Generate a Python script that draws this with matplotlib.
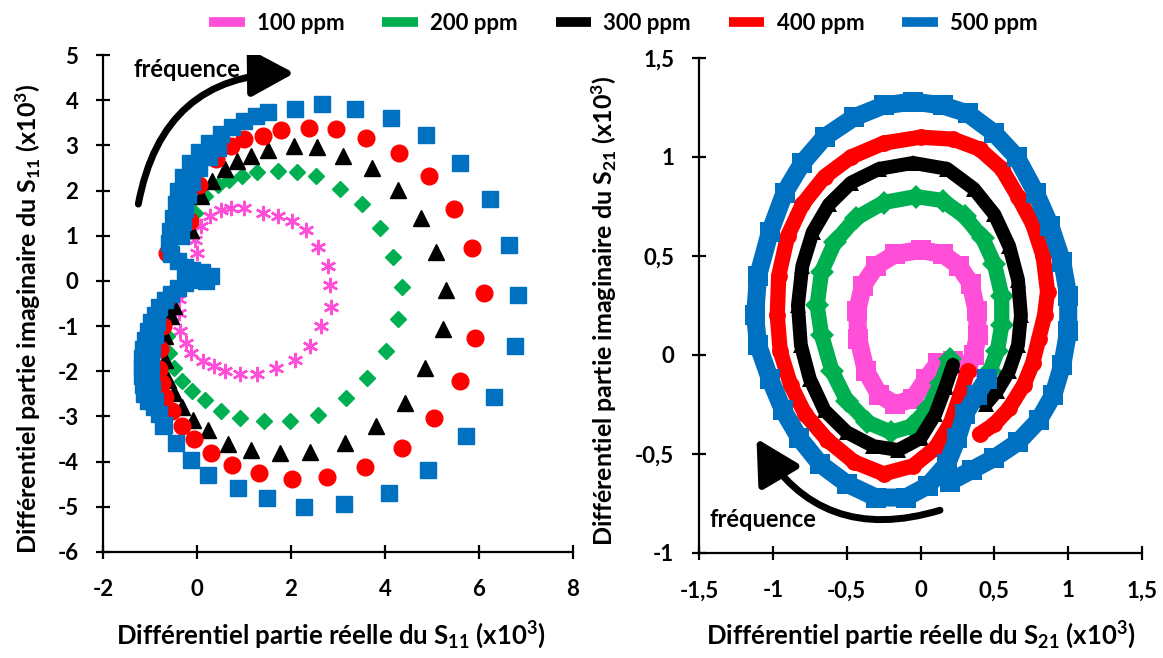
import matplotlib
matplotlib.use("Agg")
import matplotlib.pyplot as plt
from matplotlib.lines import Line2D
from matplotlib.patches import FancyArrowPatch
from matplotlib.ticker import FuncFormatter

plt.rcParams['font.family'] = ['Lato', 'DejaVu Sans']
plt.rcParams['font.weight'] = 'bold'
plt.rcParams['mathtext.fontset'] = 'custom'
plt.rcParams['mathtext.rm'] = 'Lato:bold'
plt.rcParams['mathtext.default'] = 'rm'
plt.rcParams['axes.unicode_minus'] = False

labels = ['100 ppm', '200 ppm', '300 ppm', '400 ppm', '500 ppm']
colors = ['#ff4fd8', '#00b050', '#000000', '#ff0000', '#0070c0']

# ---- S11 (left) ----
s11_100_x = [-0.38, -0.38, -0.36, -0.24, -0.12, 0.12, 0.36, 0.6, 0.92, 1.28, 1.68, 2.08, 2.4, 2.64,
             2.84, 2.82, 2.78, 2.58, 2.32, 2.02, 1.72, 1.4, 1.0, 0.72, 0.52, 0.28, 0.08, -0.04, 0.0]
s11_100_y = [-0.41, -0.7, -1.11, -1.37, -1.59, -1.78, -1.89, -2.0, -2.05, -2.05, -1.93, -1.74, -1.44, -1.0,
             -0.57, -0.09, 0.32, 0.76, 1.13, 1.32, 1.43, 1.5, 1.61, 1.61, 1.58, 1.43, 1.21, 0.91, 0.61]

s11_200_x = [-0.6, -0.64, -0.6, -0.48, -0.32, -0.1, 0.16, 0.5, 0.92, 1.42, 1.98, 2.58, 3.18, 3.62, 4.02, 4.28,
             4.36, 4.18, 3.9, 3.5, 3.04, 2.54, 2.12, 1.72, 1.28, 0.96, 0.68, 0.44, 0.16, -0.04]
s11_200_y = [-0.85, -1.22, -1.59, -1.93, -2.22, -2.44, -2.63, -2.89, -3.04, -3.09, -3.11, -2.96, -2.59, -2.15, -1.56, -0.85,
             -0.14, 0.53, 1.17, 1.71, 2.04, 2.32, 2.41, 2.43, 2.41, 2.32, 2.24, 2.13, 1.87, 1.5]

s11_300_x = [-0.48, -0.56, -0.68, -0.68, -0.62, -0.5, -0.32, -0.08, 0.24, 0.66, 1.14, 1.76, 2.4, 3.14, 3.8, 4.42,
             4.86, 5.24, 5.3, 5.08, 4.76, 4.28, 3.72, 3.1, 2.56, 2.06, 1.5, 1.14, 0.84, 0.6, 0.32, 0.08, -0.12]
s11_300_y = [-0.56, -0.78, -1.22, -1.74, -2.19, -2.48, -2.78, -3.07, -3.31, -3.61, -3.74, -3.81, -3.78, -3.59, -3.22, -2.7,
             -1.93, -1.07, -0.2, 0.64, 1.39, 2.02, 2.5, 2.76, 2.96, 2.99, 2.9, 2.76, 2.65, 2.47, 2.21, 1.87, 1.13]

s11_400_x = [-0.64, -0.72, -0.78, -0.8, -0.74, -0.68, -0.54, -0.32, -0.06, 0.3, 0.74, 1.32, 2.02, 2.76, 3.58, 4.36,
             5.04, 5.6, 5.92, 6.1, 5.86, 5.46, 4.94, 4.3, 3.6, 2.96, 2.38, 1.78, 1.4, 1.0, 0.72, 0.4, 0.04, -0.16, -0.64]
s11_400_y = [-0.4, -1.0, -1.5, -1.96, -2.26, -2.56, -2.89, -3.22, -3.5, -3.81, -4.07, -4.26, -4.39, -4.33, -4.11, -3.7,
             -3.04, -2.22, -1.26, -0.27, 0.73, 1.59, 2.32, 2.84, 3.17, 3.36, 3.39, 3.34, 3.21, 3.13, 2.99, 2.69, 2.13, 1.32, 0.61]

s11_500_x = [0.3, 0.2, 0.05, -0.1, -0.25, -0.4, -0.55, -0.68, -0.8, -0.9, -0.98, -1.05, -1.1, -1.14, -1.17,
             -1.18, -1.18, -1.16, -1.12, -1.05, -0.92, -0.72, -0.44, -0.12, 0.24, 0.88, 1.48, 2.28, 3.12, 4.08,
             4.92, 5.72, 6.32, 6.76, 6.84, 6.64, 6.24, 5.6, 4.88, 4.12, 3.36, 2.66, 2.08, 1.52, 1.25, 1.0, 0.75,
             0.5, 0.25, 0.05, -0.15, -0.3, -0.4, -0.45, -0.52, -0.58, -0.6, -0.55, -0.4, -0.25, -0.1, 0.1,
             -0.85, -0.9, -0.95, -0.98, -0.98, -0.95, -0.9, -0.8, -0.7, -0.35, -0.3, -0.25, -0.2, -0.1, 0.05, 0.25, 0.45]
s11_500_y = [0.1, 0.0, 0.08, 0.02, -0.05, -0.15, -0.28, -0.42, -0.58, -0.75, -0.92, -1.1, -1.3, -1.5, -1.7,
             -1.9, -2.1, -2.3, -2.5, -2.65, -2.78, -3.22, -3.59, -3.96, -4.3, -4.59, -4.81, -5.0, -4.93, -4.7,
             -4.19, -3.44, -2.56, -1.44, -0.31, 0.8, 1.81, 2.61, 3.22, 3.61, 3.81, 3.91, 3.8, 3.73, 3.65, 3.55, 3.4,
             3.25, 3.05, 2.85, 2.6, 2.3, 2.0, 1.7, 1.4, 1.1, 0.85, 0.6, 0.45, 0.3, 0.25, 0.2,
             -0.9, -1.2, -1.5, -1.8, -2.1, -2.4, -2.65, -2.95, -3.2, 1.0, 1.3, 1.6, 1.9, 2.2, 2.5, 2.75, 2.95]

# ---- S21 (right) ----
s21_100_x = [0.3, 0.22, 0.12, 0.04, -0.05, -0.17, -0.28, -0.37, -0.42, -0.43, -0.39, -0.3, -0.17, 0.0, 0.15,
             0.26, 0.34, 0.38, 0.39, 0.36, 0.32]
s21_100_y = [-0.05, -0.03, -0.04, -0.12, -0.22, -0.25, -0.2, -0.08, 0.08, 0.22, 0.35, 0.45, 0.51, 0.53, 0.51,
             0.45, 0.36, 0.22, 0.1, 0.0, -0.06]

s21_200_x = [0.2, 0.14, 0.05, -0.06, -0.2, -0.36, -0.5, -0.6, -0.67, -0.7, -0.67, -0.58, -0.44, -0.25, -0.03,
             0.15, 0.3, 0.42, 0.5, 0.55, 0.55, 0.52, 0.47]
s21_200_y = [-0.02, -0.14, -0.27, -0.36, -0.39, -0.34, -0.23, -0.08, 0.1, 0.25, 0.42, 0.57, 0.69, 0.77, 0.8,
             0.78, 0.7, 0.59, 0.46, 0.3, 0.15, 0.02, -0.08]

s21_300_x = [0.22, 0.17, 0.1, 0.0, -0.15, -0.32, -0.5, -0.65, -0.75, -0.81, -0.83, -0.8, -0.73, -0.62, -0.47,
             -0.28, -0.05, 0.18, 0.36, 0.5, 0.6, 0.66, 0.68, 0.66, 0.6, 0.52, 0.44]
s21_300_y = [-0.05, -0.16, -0.3, -0.42, -0.48, -0.46, -0.39, -0.28, -0.12, 0.05, 0.25, 0.45, 0.62, 0.76, 0.87,
             0.94, 0.97, 0.94, 0.84, 0.71, 0.55, 0.38, 0.2, 0.05, -0.08, -0.18, -0.25]

s21_400_x = [0.32, 0.27, 0.2, 0.1, -0.05, -0.25, -0.45, -0.63, -0.78, -0.88, -0.95, -0.97, -0.96, -0.9, -0.8,
             -0.65, -0.47, -0.25, 0.0, 0.22, 0.4, 0.55, 0.66, 0.76, 0.83, 0.86, 0.84, 0.8, 0.76, 0.7, 0.6, 0.5, 0.4]
s21_400_y = [-0.08, -0.2, -0.35, -0.47, -0.56, -0.6, -0.54, -0.43, -0.3, -0.15, 0.02, 0.2, 0.4, 0.6, 0.76,
             0.9, 1.0, 1.07, 1.1, 1.09, 1.04, 0.94, 0.8, 0.66, 0.5, 0.32, 0.2, 0.08, -0.04, -0.15, -0.27, -0.35, -0.4]

s21_500_x = [0.45, 0.38, 0.3, 0.25, 0.18, 0.05, -0.1, -0.3, -0.5, -0.68, -0.82, -0.93, -1.02, -1.1, -1.12,
             -1.1, -1.02, -0.92, -0.8, -0.65, -0.45, -0.25, -0.05, 0.15, 0.32, 0.5, 0.65, 0.78, 0.88, 0.96,
             1.0, 1.0, 0.96, 0.9, 0.8, 0.66, 0.5, 0.35, 0.2]
s21_500_y = [-0.12, -0.2, -0.3, -0.42, -0.55, -0.66, -0.72, -0.72, -0.65, -0.55, -0.42, -0.28, -0.12, 0.05, 0.2,
             0.4, 0.62, 0.82, 0.97, 1.1, 1.2, 1.26, 1.28, 1.26, 1.22, 1.12, 1.0, 0.82, 0.65, 0.47,
             0.3, 0.12, -0.05, -0.2, -0.33, -0.44, -0.52, -0.58, -0.64]

fig = plt.figure(figsize=(11.63, 6.58), dpi=100)
ax1 = fig.add_axes([0.0886, 0.1611, 0.4041, 0.7553])
ax2 = fig.add_axes([0.601, 0.1596, 0.381, 0.7523])

# left: markers
ax1.plot(s11_100_x, s11_100_y, ls='none', marker=(6, 2, 0), ms=11, mew=1.8, color=colors[0])
ax1.plot(s11_200_x, s11_200_y, ls='none', marker='D', ms=8.5, color=colors[1])
ax1.plot(s11_300_x, s11_300_y, ls='none', marker='^', ms=11, color=colors[2])
ax1.plot(s11_400_x, s11_400_y, ls='none', marker='o', ms=12, color=colors[3])
ax1.plot(s11_500_x, s11_500_y, ls='none', marker='s', ms=11.5, color=colors[4])

# right: dense noisy bands drawn as thick traces
r_series = [(s21_100_x, s21_100_y, 13, 's'), (s21_200_x, s21_200_y, 11, 'D'),
            (s21_300_x, s21_300_y, 10, '^'), (s21_400_x, s21_400_y, 11, 'o'),
            (s21_500_x, s21_500_y, 13, 's')]
for (xs, ys, lw, mk), c in zip(r_series, colors):
    ax2.plot(xs, ys, '-', lw=lw, color=c, solid_joinstyle='round', solid_capstyle='round',
             marker=mk, ms=lw * 1.1, mew=0)

ax1.set_xlim(-2, 8)
ax1.set_ylim(-6, 5)
ax1.set_xticks(range(-2, 9, 2))
ax1.set_yticks(range(-6, 6))
ax2.set_xlim(-1.5, 1.5)
ax2.set_ylim(-1, 1.5)
ax2.set_xticks([-1.5, -1, -0.5, 0, 0.5, 1, 1.5])
ax2.set_yticks([-1, -0.5, 0, 0.5, 1, 1.5])
comma = FuncFormatter(lambda v, p: ('%g' % v).replace('.', ','))
ax2.xaxis.set_major_formatter(comma)
ax2.yaxis.set_major_formatter(comma)

for ax in (ax1, ax2):
    ax.spines['top'].set_visible(False)
    ax.spines['right'].set_visible(False)
    ax.spines['left'].set_linewidth(1.6)
    ax.spines['bottom'].set_linewidth(1.6)
    ax.tick_params(direction='inout', length=9.5, width=1.6, labelsize=16)
    ax.tick_params(axis='x', pad=15)
    ax.tick_params(axis='y', pad=13)
    for t in ax.get_xticklabels() + ax.get_yticklabels():
        t.set_fontweight('bold')

ax1.set_xlabel(r'Différentiel partie réelle du S$_{11}$ (x10$^{3}$)', fontsize=18.5, fontweight='bold')
ax1.set_ylabel(r'Différentiel partie imaginaire du S$_{11}$ (x10$^{3}$)', fontsize=18, fontweight='bold')
ax2.set_xlabel(r'Différentiel partie réelle du S$_{21}$ (x10$^{3}$)', fontsize=18.5, fontweight='bold')
ax2.set_ylabel(r'Différentiel partie imaginaire du S$_{21}$ (x10$^{3}$)', fontsize=18, fontweight='bold')
ax1.xaxis.set_label_coords(0.485, -0.167)
ax2.xaxis.set_label_coords(0.5, -0.166)
ax1.yaxis.set_label_coords(-0.16, 0.47)
ax2.yaxis.set_label_coords(-0.214, 0.49)
for ax in (ax1, ax2):
    ax.xaxis.label.set_va('center')
    ax.yaxis.label.set_va('center')

# frequency arrows
arr1 = FancyArrowPatch((-1.26, 1.64), (2.13, 4.6), connectionstyle='arc3,rad=-0.42',
                       arrowstyle='-|>,head_length=1.2,head_width=0.65', mutation_scale=22,
                       lw=5, color='black')
ax1.add_patch(arr1)
ax1.text(-1.36, 4.69, 'fréquence', fontsize=17, fontweight='bold', va='center', ha='left')

arr2 = FancyArrowPatch((0.15, -0.78), (-1.12, -0.41), connectionstyle='arc3,rad=-0.4',
                       arrowstyle='-|>,head_length=1.2,head_width=0.65', mutation_scale=22,
                       lw=5, color='black')
ax2.add_patch(arr2)
ax2.text(-1.43, -0.83, 'fréquence', fontsize=17, fontweight='bold', va='center', ha='left')

handles = [Line2D([], [], color=c, lw=7, solid_capstyle='butt') for c in colors]
fig.legend(handles, labels, loc='center', bbox_to_anchor=(0.536, 0.965), ncol=5, frameon=False,
           prop={'weight': 'bold', 'size': 16}, handlelength=1.6, columnspacing=1.7, handletextpad=0.55)

fig.savefig('out.png', dpi=100)
